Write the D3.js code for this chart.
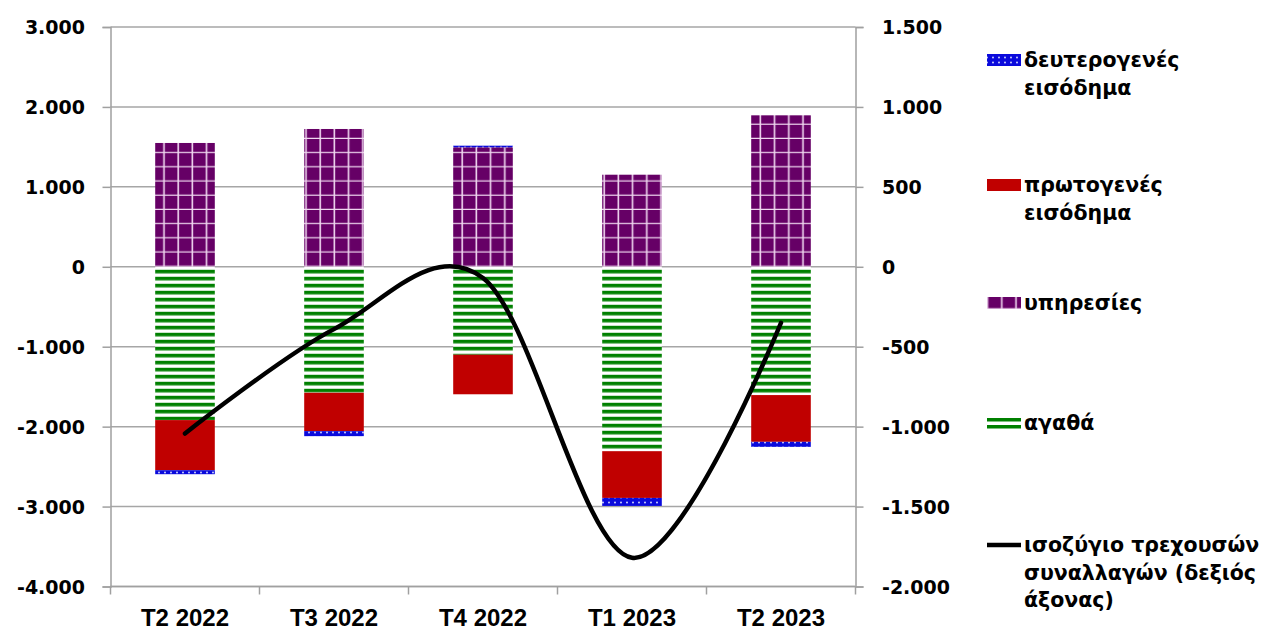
<!DOCTYPE html>
<html>
<head>
<meta charset="utf-8">
<script src="https://cdn.jsdelivr.net/npm/d3@7"></script>
<style>
  body { margin: 0; background: #fff; }
  .tick-label { font-family: "DejaVu Sans", Verdana, sans-serif; font-weight: bold; font-size: 19px; fill: #000; }
  .cat-label { font-family: "Liberation Sans Narrow", "Liberation Sans", sans-serif; font-stretch: condensed; font-weight: bold; font-size: 24px; fill: #000; }
  .legend-label { font-family: "DejaVu Sans", Verdana, sans-serif; font-weight: bold; font-size: 20.5px; fill: #000; }
</style>
</head>
<body>
<div class="d3-wrapper"></div>
<script>
// quarters and series (millions of euro)
const quarters = ['T2 2022', 'T3 2022', 'T4 2022', 'T1 2023', 'T2 2023'];
const goods = [-1918, -1576, -1100, -2307, -1605];
const services = [1549, 1724, 1495, 1152, 1895];
const primaryIncome = [-627, -480, -495, -585, -585];
const secondaryIncome = [-50, -63, 20, -100, -63];
const currentAccount = [-1043, -390, -70, -1820, -350];

const leftTicks = [3000, 2000, 1000, 0, -1000, -2000, -3000, -4000];
const rightTicks = [1500, 1000, 500, 0, -500, -1000, -1500, -2000];

const WIDTH = 1265, HEIGHT = 633;
const PLOT = { left: 110.5, right: 855.5, top: 27, bottom: 586.5 };

// Greek style thousands: 1.500, plain hyphen for negatives
const fmt = v => d3.format(',')(v).replace(/,/g, '.').replace('\u2212', '-');

const xScale = d3.scaleBand().domain(quarters).range([PLOT.left, PLOT.right]).paddingInner(0.6).paddingOuter(0.3);
const yLeft = d3.scaleLinear().domain([-4000, 3000]).range([PLOT.bottom, PLOT.top]);
const yRight = d3.scaleLinear().domain([-2000, 1500]).range([PLOT.bottom, PLOT.top]);

const svg = d3.select('.d3-wrapper').append('svg')
  .attr('width', WIDTH)
  .attr('height', HEIGHT);

// fill patterns like the Excel original
const defs = svg.append('defs');
const zeroY = yLeft(0);

const pGoods = defs.append('pattern')
  .attr('id', 'p-goods')
  .attr('patternUnits', 'userSpaceOnUse')
  .attr('width', 8).attr('height', 7)
  .attr('patternTransform', `translate(0, ${zeroY + 1})`);
pGoods.append('rect').attr('width', 8).attr('height', 7).attr('fill', '#fff');
pGoods.append('rect').attr('y', 2).attr('width', 8).attr('height', 3.6).attr('fill', '#008000');

const pServ = defs.append('pattern')
  .attr('id', 'p-services')
  .attr('patternUnits', 'userSpaceOnUse')
  .attr('width', 14.2).attr('height', 14.2)
  .attr('patternTransform', `translate(${xScale(quarters[0])}, ${zeroY})`);
pServ.append('rect').attr('width', 14.2).attr('height', 14.2).attr('fill', '#660066');
pServ.append('rect').attr('x', 8).attr('width', 1.6).attr('height', 14.2).attr('fill', '#f0d8f0');
pServ.append('rect').attr('y', 13).attr('width', 14.2).attr('height', 1.6).attr('fill', '#f0d8f0');

const pSec = defs.append('pattern')
  .attr('id', 'p-secondary')
  .attr('patternUnits', 'userSpaceOnUse')
  .attr('width', 6).attr('height', 5);
pSec.append('rect').attr('width', 6).attr('height', 5).attr('fill', '#0a0adc');
pSec.append('circle').attr('cx', 3).attr('cy', 2.5).attr('r', 0.9).attr('fill', '#dfe4ff');

const series = [
  { key: 'goods', label: ['αγαθά'], values: goods, fill: 'url(#p-goods)' },
  { key: 'services', label: ['υπηρεσίες'], values: services, fill: 'url(#p-services)' },
  { key: 'primary', label: ['πρωτογενές', 'εισόδημα'], values: primaryIncome, fill: '#c00000' },
  { key: 'secondary', label: ['δευτερογενές', 'εισόδημα'], values: secondaryIncome, fill: 'url(#p-secondary)' }
];

// gridlines
svg.append('g')
  .selectAll('line')
  .data(leftTicks)
  .enter()
  .append('line')
  .attr('x1', PLOT.left).attr('x2', PLOT.right)
  .attr('y1', d => yLeft(d)).attr('y2', d => yLeft(d))
  .attr('stroke', '#a6a6a6')
  .attr('stroke-width', 1.5);

// stacked bars
const table = quarters.map((q, i) => {
  const row = { q };
  series.forEach(s => { row[s.key] = s.values[i]; });
  return row;
});
const stacked = d3.stack()
  .keys(series.map(s => s.key))
  .offset(d3.stackOffsetDiverging)(table);

svg.append('g')
  .selectAll('g')
  .data(stacked)
  .enter()
  .append('g')
  .attr('fill', (d, i) => series[i].fill)
  .selectAll('rect')
  .data(d => d)
  .enter()
  .append('rect')
  .attr('x', d => xScale(d.data.q))
  .attr('width', xScale.bandwidth())
  .attr('y', d => yLeft(Math.max(d[0], d[1])))
  .attr('height', d => Math.abs(yLeft(d[0]) - yLeft(d[1])));

// axes
const leftAxis = d3.axisLeft(yLeft).tickValues(leftTicks).tickSize(8).tickFormat('');
const rightAxis = d3.axisRight(yRight).tickValues(rightTicks).tickSize(8).tickFormat('');

const gl = svg.append('g').attr('transform', `translate(${PLOT.left}, 0)`).call(leftAxis);
const gr = svg.append('g').attr('transform', `translate(${PLOT.right}, 0)`).call(rightAxis);
[gl, gr].forEach(g => {
  g.select('.domain').attr('stroke', '#a0a0a0').attr('stroke-width', 1.5);
  g.selectAll('.tick line').attr('stroke', '#a0a0a0').attr('stroke-width', 1.5);
});

svg.append('g')
  .selectAll('text')
  .data(leftTicks)
  .enter()
  .append('text')
  .attr('class', 'tick-label')
  .attr('x', 85)
  .attr('y', d => yLeft(d) + 7)
  .attr('text-anchor', 'end')
  .text(fmt);

svg.append('g')
  .selectAll('text')
  .data(rightTicks)
  .enter()
  .append('text')
  .attr('class', 'tick-label')
  .attr('x', 882)
  .attr('y', d => yRight(d) + 7)
  .text(fmt);

// category axis with ticks between groups
const boundaries = quarters.map(q => xScale(q) - xScale.step() * xScale.paddingInner() / 2)
  .concat([PLOT.right]);
boundaries[0] = PLOT.left;
const gb = svg.append('g');
gb.append('line')
  .attr('x1', PLOT.left).attr('x2', PLOT.right)
  .attr('y1', PLOT.bottom).attr('y2', PLOT.bottom)
  .attr('stroke', '#a0a0a0').attr('stroke-width', 1.5);
gb.selectAll('.btick')
  .data(boundaries)
  .enter()
  .append('line')
  .attr('x1', d => d).attr('x2', d => d)
  .attr('y1', PLOT.bottom).attr('y2', PLOT.bottom + 8)
  .attr('stroke', '#a0a0a0').attr('stroke-width', 1.5);
gb.selectAll('text')
  .data(quarters)
  .enter()
  .append('text')
  .attr('class', 'cat-label')
  .attr('x', d => xScale(d) + xScale.bandwidth() / 2)
  .attr('y', 626)
  .attr('text-anchor', 'middle')
  .text(d => d);

// current account line on the right axis, smoothed like Excel
const line = d3.line()
  .x((d, i) => xScale(quarters[i]) + xScale.bandwidth() / 2)
  .y(d => yRight(d))
  .curve(d3.curveCatmullRom.alpha(0));

svg.append('path')
  .datum(currentAccount)
  .attr('d', line)
  .attr('fill', 'none')
  .attr('stroke', '#000')
  .attr('stroke-width', 4.5)
  .attr('stroke-linecap', 'round');

// legend
const legendItems = [
  { lines: series[3].label, fill: series[3].fill, y: 60 },
  { lines: series[2].label, fill: series[2].fill, y: 185 },
  { lines: series[1].label, fill: series[1].fill, y: 303 },
  { lines: series[0].label, fill: 'goods', y: 423 },
  { lines: ['ισοζύγιο τρεχουσών', 'συναλλαγών (δεξιός', 'άξονας)'], fill: 'line', y: 545 }
];

const legend = svg.append('g');
legendItems.forEach(item => {
  const g = legend.append('g');
  if (item.fill === 'line') {
    g.append('line')
      .attr('x1', 987).attr('x2', 1021)
      .attr('y1', item.y).attr('y2', item.y)
      .attr('stroke', '#000').attr('stroke-width', 4.5);
  } else if (item.fill === 'goods') {
    [item.y - 5, item.y + 2].forEach(yy => {
      g.append('rect').attr('x', 987).attr('y', yy).attr('width', 34).attr('height', 3.5).attr('fill', '#008000');
    });
  } else {
    g.append('rect')
      .attr('x', 987).attr('y', item.y - 6)
      .attr('width', 34).attr('height', 12)
      .attr('fill', item.fill);
  }
  item.lines.forEach((t, j) => {
    g.append('text')
      .attr('class', 'legend-label')
      .attr('x', 1024)
      .attr('y', item.y + 7 + j * 27.5)
      .text(t);
  });
});
</script>
</body>
</html>
